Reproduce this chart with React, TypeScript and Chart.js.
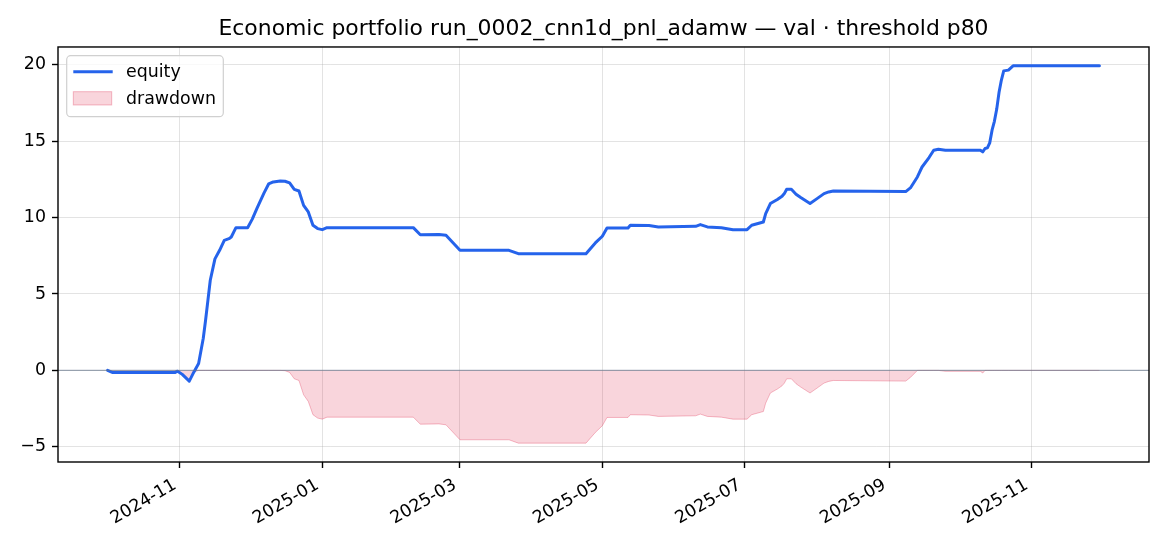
import React, { useEffect, useRef } from 'react';
import { Chart, registerables } from 'chart.js';

Chart.register(...registerables);

const TITLE = 'Economic portfolio run_0002_cnn1d_pnl_adamw — val · threshold p80';
const LEGEND_LABELS = ['equity', 'drawdown'];

const DATES = [
  '2024-10-01', '2024-10-03', '2024-10-30', '2024-10-31', '2024-11-02', '2024-11-04', '2024-11-05', '2024-11-07',
  '2024-11-09', '2024-11-11', '2024-11-12', '2024-11-13', '2024-11-14', '2024-11-16', '2024-11-18', '2024-11-20',
  '2024-11-22', '2024-11-23', '2024-11-25', '2024-11-30', '2024-12-02', '2024-12-04', '2024-12-07', '2024-12-09',
  '2024-12-11', '2024-12-14', '2024-12-16', '2024-12-18', '2024-12-20', '2024-12-22', '2024-12-24', '2024-12-26',
  '2024-12-28', '2024-12-30', '2025-01-01', '2025-01-03', '2025-02-09', '2025-02-12', '2025-02-20', '2025-02-23',
  '2025-03-01', '2025-03-22', '2025-03-26', '2025-04-24', '2025-04-28', '2025-05-01', '2025-05-03', '2025-05-12',
  '2025-05-13', '2025-05-21', '2025-05-25', '2025-06-10', '2025-06-12', '2025-06-15', '2025-06-21', '2025-06-26',
  '2025-07-02', '2025-07-04', '2025-07-09', '2025-07-10', '2025-07-12', '2025-07-15', '2025-07-17', '2025-07-18',
  '2025-07-19', '2025-07-21', '2025-07-23', '2025-07-25', '2025-07-29', '2025-08-01', '2025-08-04', '2025-08-06',
  '2025-08-08', '2025-09-08', '2025-09-10', '2025-09-13', '2025-09-15', '2025-09-18', '2025-09-20', '2025-09-22',
  '2025-09-25', '2025-10-10', '2025-10-11', '2025-10-12', '2025-10-13', '2025-10-14', '2025-10-15', '2025-10-16',
  '2025-10-17', '2025-10-18', '2025-10-19', '2025-10-20', '2025-10-22', '2025-10-24', '2025-11-30',
];

const EQUITY = [
  0, -0.13, -0.13, -0.05, -0.26, -0.55, -0.7, -0.1,
  0.45, 2.1, 3.3, 4.6, 5.9, 7.3, 7.86, 8.51,
  8.62, 8.73, 9.34, 9.34, 9.9, 10.6, 11.6, 12.2,
  12.33, 12.4, 12.38, 12.27, 11.85, 11.74, 10.8, 10.37,
  9.5, 9.28, 9.21, 9.34, 9.34, 8.88, 8.9, 8.84,
  7.86, 7.86, 7.64, 7.64, 8.34, 8.78, 9.32, 9.32,
  9.5, 9.48, 9.39, 9.43, 9.54, 9.39, 9.34, 9.21,
  9.21, 9.5, 9.71, 10.26, 10.92, 11.18, 11.39, 11.57,
  11.85, 11.85, 11.53, 11.31, 10.92, 11.24, 11.57, 11.68,
  11.74, 11.7, 11.94, 12.66, 13.31, 13.93, 14.41, 14.47,
  14.41, 14.41, 14.3, 14.52, 14.56, 14.89, 15.72, 16.3,
  17.1, 18.2, 19.0, 19.6, 19.65, 19.93, 19.93,
];

const DRAWDOWN = [
  0, -0.13, -0.13, -0.05, -0.26, -0.55, -0.7, -0.1,
  0, 0, 0, 0, 0, 0, 0, 0,
  0, 0, 0, 0, 0, 0, 0, 0,
  0, 0, -0.02, -0.13, -0.55, -0.66, -1.6, -2.03,
  -2.9, -3.12, -3.19, -3.06, -3.06, -3.52, -3.5, -3.56,
  -4.54, -4.54, -4.76, -4.76, -4.06, -3.62, -3.08, -3.08,
  -2.9, -2.92, -3.01, -2.97, -2.86, -3.01, -3.06, -3.19,
  -3.19, -2.9, -2.69, -2.14, -1.48, -1.22, -1.01, -0.83,
  -0.55, -0.55, -0.87, -1.09, -1.48, -1.16, -0.83, -0.72,
  -0.66, -0.7, -0.46, 0, 0, 0, 0, 0,
  -0.06, -0.06, -0.17, 0, 0, 0, 0, 0,
  0, 0, 0, 0, 0, 0, 0,
];

const X_TICK_DATES = ['2024-11-01', '2025-01-01', '2025-03-01', '2025-05-01', '2025-07-01', '2025-09-01', '2025-11-01'];
const X_TICK_LABELS = ['2024-11', '2025-01', '2025-03', '2025-05', '2025-07', '2025-09', '2025-11'];
const Y_TICKS = [-5, 0, 5, 10, 15, 20];

const FONT = '"DejaVu Sans", "Liberation Sans", sans-serif';
const BLUE = '#2563eb';
const DD_FILL = 'rgba(220, 20, 60, 0.18)';
const DD_EDGE = 'rgba(220, 20, 60, 0.28)';

const ORIGIN = Date.UTC(2024, 9, 1);
function toDay(s: string): number {
  const [y, m, d] = s.split('-').map(Number);
  return (Date.UTC(y, m - 1, d) - ORIGIN) / 86400000;
}

const mplPlugin = {
  id: 'mplDecor',
  afterDatasetsDraw(chart: any) {
    const { ctx, chartArea: a, scales } = chart;
    const y0 = scales.y.getPixelForValue(0);
    ctx.save();
    ctx.strokeStyle = 'rgba(100, 116, 139, 0.6)';
    ctx.lineWidth = 1.2;
    ctx.beginPath();
    ctx.moveTo(a.left, y0);
    ctx.lineTo(a.right, y0);
    ctx.stroke();
    ctx.restore();
  },
  afterDraw(chart: any) {
    const { ctx, chartArea: a } = chart;
    ctx.save();
    // axes frame
    ctx.strokeStyle = '#000';
    ctx.lineWidth = 1.4;
    ctx.strokeRect(a.left, a.top, a.right - a.left, a.bottom - a.top);

    // legend
    const bx = a.left + 8.7;
    const by = a.top + 8.7;
    const bw = 156.6;
    const bh = 61;
    const r = 4;
    ctx.beginPath();
    ctx.moveTo(bx + r, by);
    ctx.lineTo(bx + bw - r, by);
    ctx.arcTo(bx + bw, by, bx + bw, by + r, r);
    ctx.lineTo(bx + bw, by + bh - r);
    ctx.arcTo(bx + bw, by + bh, bx + bw - r, by + bh, r);
    ctx.lineTo(bx + r, by + bh);
    ctx.arcTo(bx, by + bh, bx, by + bh - r, r);
    ctx.lineTo(bx, by + r);
    ctx.arcTo(bx, by, bx + r, by, r);
    ctx.closePath();
    ctx.fillStyle = 'rgba(255,255,255,0.8)';
    ctx.fill();
    ctx.strokeStyle = '#d0d0d0';
    ctx.lineWidth = 1.2;
    ctx.stroke();

    ctx.strokeStyle = BLUE;
    ctx.lineWidth = 3;
    ctx.beginPath();
    ctx.moveTo(bx + 6.6, by + 16);
    ctx.lineTo(bx + 46, by + 16);
    ctx.stroke();

    ctx.fillStyle = DD_FILL;
    ctx.fillRect(bx + 6.6, by + 36, 38.4, 13.3);
    ctx.strokeStyle = DD_EDGE;
    ctx.lineWidth = 1;
    ctx.strokeRect(bx + 6.6, by + 36, 38.4, 13.3);

    ctx.fillStyle = '#000';
    ctx.font = `17.4px ${FONT}`;
    ctx.textAlign = 'left';
    ctx.textBaseline = 'alphabetic';
    ctx.fillText(LEGEND_LABELS[0], bx + 59.3, by + 21.6);
    ctx.fillText(LEGEND_LABELS[1], bx + 59.3, by + 48.6);
    ctx.restore();
  },
};

export default function App() {
  const canvasRef = useRef<HTMLCanvasElement | null>(null);

  useEffect(() => {
    const canvas = canvasRef.current;
    if (!canvas) return;
    const xs = DATES.map(toDay);
    const xMinData = Math.min(...xs);
    const xMaxData = Math.max(...xs);
    const xSpan = xMaxData - xMinData;
    const allY = [...EQUITY, ...DRAWDOWN];
    const yMinData = Math.min(...allY);
    const yMaxData = Math.max(...allY);
    const ySpan = yMaxData - yMinData;

    const chart = new Chart(canvas, {
      type: 'line',
      data: {
        datasets: [
          {
            label: LEGEND_LABELS[0],
            data: xs.map((x, i) => ({ x, y: EQUITY[i] })),
            borderColor: BLUE,
            borderWidth: 3,
            pointRadius: 0,
            fill: false,
            tension: 0,
            borderJoinStyle: 'round',
            borderCapStyle: 'round',
            order: 0,
          },
          {
            label: LEGEND_LABELS[1],
            data: xs.map((x, i) => ({ x, y: DRAWDOWN[i] })),
            borderColor: DD_EDGE,
            backgroundColor: DD_FILL,
            borderWidth: 1,
            pointRadius: 0,
            fill: 'origin',
            tension: 0,
            order: 1,
          },
        ],
      },
      options: {
        animation: false,
        responsive: false,
        devicePixelRatio: 1,
        layout: { padding: { left: 0, right: 21, top: 0, bottom: 0 } },
        plugins: {
          legend: { display: false },
          tooltip: { enabled: false },
          title: {
            display: true,
            text: TITLE,
            color: '#000',
            fullSize: false,
            font: { family: FONT, size: 21.9, weight: 'normal' },
            padding: { top: 16.3, bottom: 4.4 },
          },
        },
        scales: {
          x: {
            type: 'linear',
            min: xMinData - 0.05 * xSpan,
            max: xMaxData + 0.05 * xSpan,
            afterBuildTicks: (s: any) => {
              s.ticks = X_TICK_DATES.map((d) => ({ value: toDay(d) }));
            },
            afterFit: (s: any) => {
              s.height = 84;
            },
            ticks: {
              autoSkip: false,
              minRotation: 30,
              maxRotation: 30,
              color: '#000',
              padding: 4,
              font: { family: FONT, size: 17.4 },
              callback: (v: any) => {
                const idx = X_TICK_DATES.findIndex((d) => toDay(d) === v);
                return idx >= 0 ? X_TICK_LABELS[idx] + ' ' : '';
              },
            },
            grid: {
              color: 'rgba(176,176,176,0.35)',
              lineWidth: 1,
              tickColor: '#000',
              tickLength: 6,
              tickWidth: 1.4,
            },
            border: { display: false },
          },
          y: {
            type: 'linear',
            min: yMinData - 0.05 * ySpan,
            max: yMaxData + 0.05 * ySpan,
            afterBuildTicks: (s: any) => {
              s.ticks = Y_TICKS.map((v) => ({ value: v }));
            },
            afterFit: (s: any) => {
              s.width = 58;
            },
            ticks: {
              color: '#000',
              padding: 6,
              font: { family: FONT, size: 17.4 },
              callback: (v: any) => String(v).replace('-', '\u2212'),
            },
            grid: {
              color: 'rgba(176,176,176,0.35)',
              lineWidth: 1,
              tickColor: '#000',
              tickLength: 6,
              tickWidth: 1.4,
            },
            border: { display: false },
          },
        },
      },
      plugins: [mplPlugin],
    } as any);

    return () => {
      chart.destroy();
    };
  }, []);

  return (
    <div style={{ position: 'fixed', left: 0, top: 0, width: 1170, height: 546, background: '#fff' }}>
      <canvas ref={canvasRef} width={1170} height={546} style={{ width: 1170, height: 546, display: 'block' }} />
    </div>
  );
}
